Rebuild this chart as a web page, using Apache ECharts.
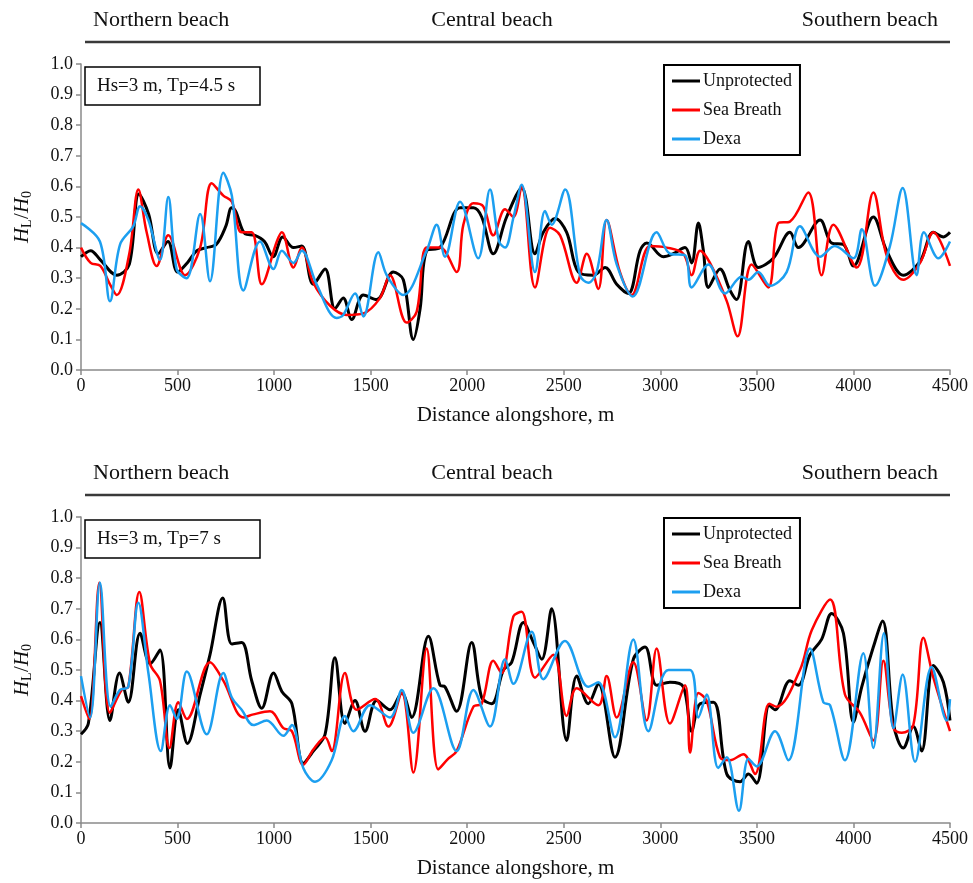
<!DOCTYPE html>
<html><head><meta charset="utf-8">
<script src="https://cdn.jsdelivr.net/npm/echarts@6/dist/echarts.min.js"></script>
<style>html,body{margin:0;padding:0;background:#fff}#c{width:973px;height:883px}</style>
</head><body><div id="c"></div>
<script>
const seriesNames = ['Unprotected', 'Sea Breath', 'Dexa'];
const panelLabels = ['Hs=3 m, Tp=4.5 s', 'Hs=3 m, Tp=7 s'];
const beachLabels = ['Northern beach', 'Central beach', 'Southern beach'];
const xAxisTitle = 'Distance alongshore, m';

// Panel 1 (Tp = 4.5 s): [distance m, HL/H0]
const unprotected1 = [[0,0.37],[50,0.39],[100,0.36],[185,0.31],[250,0.345],[300,0.575],[350,0.51],[400,0.38],[450,0.42],[500,0.32],[550,0.35],[600,0.39],[650,0.40],[700,0.41],[750,0.47],[780,0.53],[800,0.52],[850,0.445],[900,0.44],[950,0.42],[995,0.37],[1045,0.435],[1100,0.40],[1143,0.405],[1203,0.28],[1264,0.33],[1315,0.20],[1358,0.235],[1402,0.165],[1462,0.245],[1531,0.23],[1617,0.32],[1669,0.295],[1721,0.10],[1756,0.20],[1790,0.39],[1859,0.40],[1963,0.53],[2032,0.53],[2075,0.50],[2135,0.38],[2204,0.50],[2282,0.595],[2351,0.38],[2394,0.45],[2455,0.495],[2515,0.45],[2576,0.32],[2653,0.31],[2714,0.335],[2774,0.28],[2834,0.25],[2895,0.39],[2930,0.415],[3016,0.37],[3067,0.38],[3128,0.40],[3162,0.35],[3197,0.48],[3223,0.39],[3249,0.27],[3309,0.33],[3361,0.26],[3395,0.23],[3456,0.42],[3507,0.335],[3585,0.365],[3671,0.45],[3715,0.40],[3827,0.49],[3887,0.415],[3948,0.41],[4000,0.34],[4103,0.50],[4172,0.39],[4258,0.31],[4345,0.355],[4414,0.45],[4466,0.435],[4500,0.45]];
const seaBreath1 = [[0,0.40],[50,0.35],[100,0.34],[150,0.28],[185,0.245],[250,0.38],[297,0.59],[340,0.45],[392,0.34],[452,0.44],[539,0.31],[617,0.40],[677,0.61],[737,0.57],[781,0.55],[832,0.45],[884,0.45],[936,0.28],[1014,0.42],[1040,0.45],[1100,0.335],[1143,0.40],[1203,0.285],[1290,0.21],[1376,0.18],[1462,0.185],[1548,0.235],[1600,0.31],[1686,0.155],[1738,0.19],[1790,0.40],[1859,0.40],[1945,0.32],[1980,0.475],[2032,0.545],[2083,0.535],[2135,0.44],[2196,0.525],[2239,0.50],[2282,0.60],[2351,0.27],[2429,0.465],[2481,0.44],[2567,0.285],[2619,0.38],[2679,0.265],[2722,0.49],[2791,0.32],[2852,0.245],[2947,0.405],[3033,0.40],[3119,0.38],[3162,0.31],[3206,0.39],[3257,0.35],[3344,0.225],[3400,0.11],[3473,0.345],[3559,0.27],[3611,0.48],[3671,0.485],[3766,0.58],[3835,0.31],[3896,0.475],[4017,0.335],[4103,0.58],[4172,0.375],[4258,0.295],[4345,0.35],[4414,0.45],[4500,0.34]];
const dexa1 = [[0,0.48],[98,0.42],[150,0.225],[202,0.41],[271,0.47],[306,0.535],[349,0.49],[409,0.36],[452,0.565],[495,0.33],[547,0.30],[617,0.51],[668,0.29],[737,0.645],[781,0.57],[841,0.26],[927,0.42],[997,0.33],[1040,0.39],[1100,0.35],[1143,0.39],[1220,0.28],[1324,0.17],[1358,0.18],[1419,0.25],[1462,0.175],[1540,0.385],[1583,0.31],[1669,0.245],[1790,0.39],[1842,0.475],[1885,0.37],[1963,0.55],[2057,0.365],[2118,0.59],[2165,0.42],[2196,0.40],[2240,0.50],[2282,0.605],[2351,0.32],[2403,0.52],[2437,0.475],[2507,0.59],[2584,0.31],[2627,0.285],[2670,0.32],[2722,0.49],[2774,0.345],[2857,0.24],[2981,0.45],[3050,0.38],[3128,0.375],[3162,0.27],[3249,0.345],[3335,0.25],[3421,0.305],[3456,0.295],[3507,0.32],[3568,0.275],[3654,0.32],[3723,0.47],[3827,0.37],[3904,0.405],[4000,0.365],[4043,0.46],[4112,0.275],[4189,0.405],[4255,0.595],[4327,0.31],[4365,0.45],[4440,0.365],[4500,0.42]];

// Panel 2 (Tp = 7 s)
const unprotected2 = [[0,0.29],[38,0.325],[98,0.655],[150,0.335],[199,0.49],[245,0.395],[306,0.62],[358,0.52],[409,0.565],[461,0.18],[504,0.37],[551,0.26],[617,0.42],[668,0.55],[734,0.735],[781,0.585],[832,0.59],[884,0.465],[936,0.375],[997,0.49],[1040,0.43],[1092,0.39],[1151,0.195],[1203,0.235],[1264,0.29],[1315,0.54],[1367,0.325],[1419,0.40],[1471,0.30],[1531,0.40],[1600,0.37],[1661,0.425],[1712,0.345],[1799,0.61],[1859,0.45],[1885,0.445],[1945,0.365],[2023,0.59],[2075,0.41],[2127,0.39],[2187,0.50],[2230,0.525],[2291,0.655],[2343,0.59],[2386,0.535],[2437,0.70],[2515,0.27],[2567,0.48],[2627,0.39],[2679,0.455],[2765,0.215],[2860,0.535],[2921,0.575],[2981,0.45],[3050,0.46],[3119,0.445],[3162,0.30],[3206,0.39],[3275,0.395],[3344,0.16],[3413,0.135],[3456,0.16],[3499,0.13],[3564,0.385],[3594,0.37],[3671,0.465],[3715,0.45],[3775,0.55],[3835,0.60],[3887,0.685],[3948,0.62],[4000,0.33],[4043,0.445],[4103,0.575],[4151,0.66],[4207,0.325],[4258,0.245],[4310,0.315],[4353,0.235],[4414,0.515],[4466,0.46],[4500,0.335]];
const seaBreath2 = [[0,0.415],[43,0.34],[95,0.785],[150,0.36],[211,0.435],[245,0.445],[302,0.755],[358,0.52],[409,0.465],[458,0.245],[504,0.395],[548,0.34],[668,0.525],[737,0.465],[841,0.345],[893,0.355],[979,0.365],[1048,0.31],[1092,0.30],[1151,0.19],[1203,0.24],[1264,0.28],[1298,0.235],[1367,0.49],[1428,0.37],[1523,0.405],[1592,0.315],[1661,0.425],[1721,0.165],[1790,0.57],[1850,0.175],[1902,0.21],[1945,0.235],[2032,0.38],[2075,0.39],[2135,0.53],[2178,0.49],[2239,0.675],[2282,0.69],[2351,0.475],[2446,0.55],[2515,0.35],[2567,0.44],[2679,0.385],[2722,0.48],[2774,0.345],[2860,0.525],[2929,0.335],[2981,0.57],[3050,0.325],[3128,0.45],[3154,0.23],[3197,0.425],[3240,0.40],[3309,0.215],[3361,0.205],[3430,0.225],[3490,0.16],[3564,0.39],[3602,0.38],[3723,0.50],[3784,0.63],[3879,0.73],[3956,0.42],[4034,0.36],[4103,0.27],[4155,0.53],[4207,0.31],[4250,0.295],[4310,0.32],[4362,0.605],[4414,0.475],[4500,0.30]];
const dexa2 = [[0,0.48],[47,0.345],[98,0.785],[154,0.38],[202,0.435],[245,0.445],[297,0.72],[349,0.49],[413,0.235],[461,0.385],[496,0.34],[548,0.495],[651,0.29],[737,0.49],[781,0.41],[832,0.37],[893,0.32],[962,0.335],[1048,0.285],[1092,0.32],[1151,0.18],[1212,0.135],[1298,0.205],[1367,0.35],[1410,0.30],[1497,0.385],[1600,0.345],[1661,0.435],[1721,0.295],[1825,0.44],[1945,0.235],[2032,0.435],[2118,0.315],[2196,0.535],[2239,0.455],[2334,0.625],[2394,0.47],[2506,0.595],[2627,0.445],[2679,0.46],[2765,0.28],[2860,0.60],[2938,0.30],[3042,0.50],[3154,0.50],[3197,0.345],[3240,0.42],[3300,0.18],[3344,0.215],[3407,0.04],[3456,0.21],[3499,0.185],[3594,0.30],[3663,0.205],[3775,0.57],[3844,0.395],[3879,0.385],[3956,0.205],[4051,0.555],[4103,0.245],[4158,0.62],[4207,0.31],[4255,0.485],[4319,0.20],[4405,0.51],[4483,0.335],[4500,0.405]];

const FONT = 'Liberation Serif';
const colors = ['#000000', '#ff0000', '#1c9ff0'];
const widths = [3, 2.5, 2.5];
const panels = [[unprotected1, seaBreath1, dexa1], [unprotected2, seaBreath2, dexa2]];
const gridTops = [64, 517];
const GH = 306;

const chart = echarts.init(document.getElementById('c'), null, {renderer: 'canvas'});

const grids = gridTops.map(t => ({left: 81, right: 23, top: t, height: GH}));
const xAxes = gridTops.map((t, i) => ({
  type: 'value', gridIndex: i, min: 0, max: 4500, interval: 500,
  axisLine: {show: true, lineStyle: {color: '#8a8a8a', width: 1.5}},
  axisTick: {show: true, inside: false, length: 5, lineStyle: {color: '#8a8a8a', width: 1.5}},
  splitLine: {show: false},
  axisLabel: {fontFamily: FONT, fontSize: 18, color: '#111', margin: 7, formatter: v => String(Math.round(v))},
  name: xAxisTitle, nameLocation: 'middle', nameGap: 35,
  nameTextStyle: {fontFamily: FONT, fontSize: 21, color: '#111'}
}));
const yAxes = gridTops.map((t, i) => ({
  type: 'value', gridIndex: i, min: 0, max: 1, interval: 0.1,
  axisLine: {show: true, lineStyle: {color: '#8a8a8a', width: 1.5}},
  axisTick: {show: true, inside: false, length: 5, lineStyle: {color: '#8a8a8a', width: 1.5}},
  splitLine: {show: false},
  axisLabel: {fontFamily: FONT, fontSize: 18, color: '#111', margin: 8, formatter: v => v.toFixed(1)}
}));

const series = [];
panels.forEach((arrs, p) => {
  arrs.forEach((d, k) => {
    series.push({
      type: 'line', name: seriesNames[k], xAxisIndex: p, yAxisIndex: p,
      data: d, smooth: 0.35, symbol: 'none', showSymbol: false,
      lineStyle: {color: colors[k], width: widths[k]}, itemStyle: {color: colors[k]},
      z: 2 + k, animation: false
    });
  });
});

const legends = gridTops.map(t => ({
  orient: 'vertical', left: 664, top: t + 1,
  data: seriesNames, icon: 'rect', itemWidth: 28, itemHeight: 3, itemGap: 11,
  borderColor: '#000', borderWidth: 2, padding: [7, 8, 7, 8], backgroundColor: '#fff',
  textStyle: {fontFamily: FONT, fontSize: 18, color: '#111', padding: [0, 0, 0, -2]},
  selectedMode: false
}));

const graphics = [];
gridTops.forEach((t, i) => {
  const hy = t - 44; // header text centre
  const ly = t - 22; // header rule
  graphics.push({type: 'text', x: 93, y: hy, style: {text: beachLabels[0], font: '22px "' + FONT + '"', fill: '#111', textAlign: 'left', textVerticalAlign: 'middle'}});
  graphics.push({type: 'text', x: 492, y: hy, style: {text: beachLabels[1], font: '22px "' + FONT + '"', fill: '#111', textAlign: 'center', textVerticalAlign: 'middle'}});
  graphics.push({type: 'text', x: 938, y: hy, style: {text: beachLabels[2], font: '22px "' + FONT + '"', fill: '#111', textAlign: 'right', textVerticalAlign: 'middle'}});
  graphics.push({type: 'line', shape: {x1: 85, y1: ly, x2: 950, y2: ly}, style: {stroke: '#3a3a3a', lineWidth: 2.5}});
  graphics.push({type: 'rect', shape: {x: 85, y: t + 3, width: 175, height: 38}, style: {stroke: '#000', lineWidth: 1.5, fill: '#fff'}, z: 10});
  graphics.push({type: 'text', x: 97, y: t + 22, z: 11, style: {text: panelLabels[i], font: '19px "' + FONT + '"', fill: '#111', textVerticalAlign: 'middle'}});
  // y-axis title H_L/H_0
  graphics.push({type: 'group', x: 22, y: t + 153, rotation: Math.PI / 2, children: [
    {type: 'text', x: -26, y: 0, style: {text: 'H', font: 'italic 21px "' + FONT + '"', fill: '#111', textVerticalAlign: 'middle'}},
    {type: 'text', x: -11, y: 5, style: {text: 'L', font: '14px "' + FONT + '"', fill: '#111', textVerticalAlign: 'middle'}},
    {type: 'text', x: -2, y: 0, style: {text: '/', font: '21px "' + FONT + '"', fill: '#111', textVerticalAlign: 'middle'}},
    {type: 'text', x: 4, y: 0, style: {text: 'H', font: 'italic 21px "' + FONT + '"', fill: '#111', textVerticalAlign: 'middle'}},
    {type: 'text', x: 19, y: 5, style: {text: '0', font: '14px "' + FONT + '"', fill: '#111', textVerticalAlign: 'middle'}}
  ]});
});

chart.setOption({
  animation: false,
  backgroundColor: '#fff',
  grid: grids, xAxis: xAxes, yAxis: yAxes,
  legend: legends, series: series, graphic: graphics
});
</script></body></html>
